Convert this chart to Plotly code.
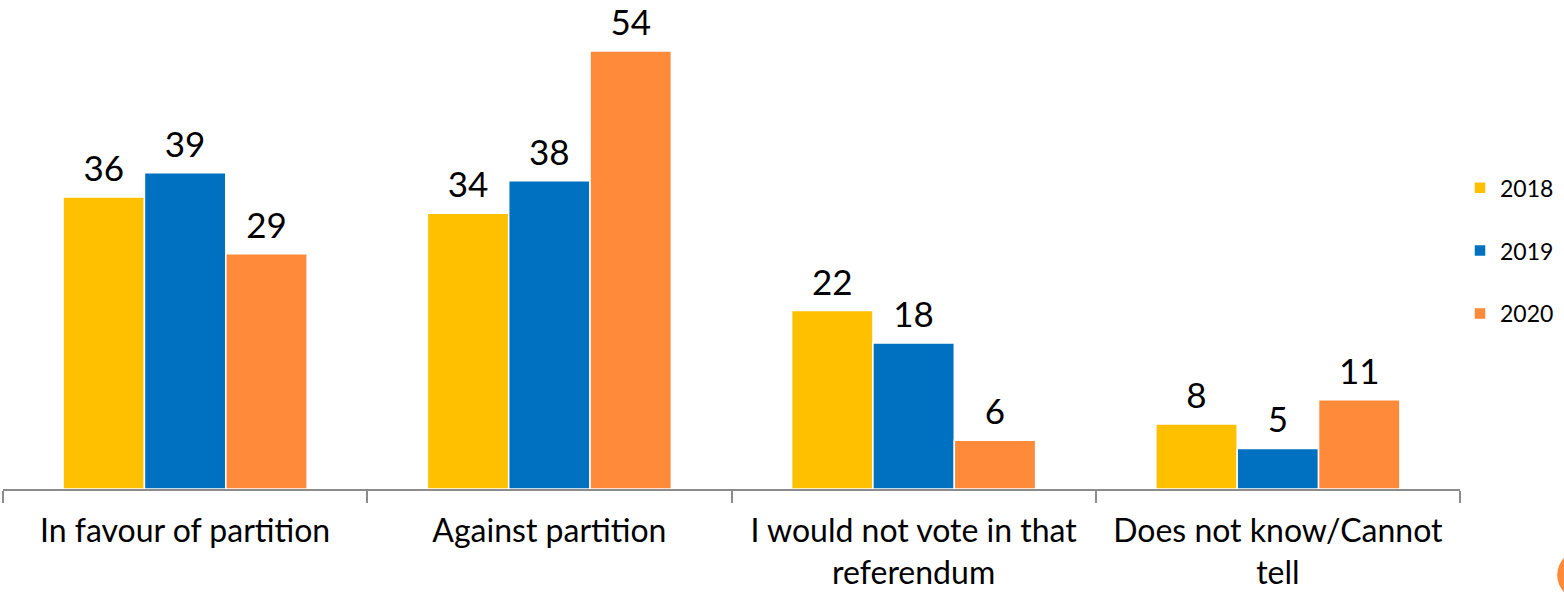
import plotly.graph_objects as go

categories = ["In favour of partition", "Against partition",
              "I would not vote in that<br>referendum", "Does not know/Cannot<br>tell"]
years = ["2018", "2019", "2020"]
values_2018 = [36, 34, 22, 8]
values_2019 = [39, 38, 18, 5]
values_2020 = [29, 54, 6, 11]
colors = ["#FFC000", "#0070C0", "#FF8A3A"]

series = [values_2018, values_2019, values_2020]
FONT = "Lato, 'Open Sans', sans-serif"
GAP = 0.33

fig = go.Figure()
for i, (yr, vals) in enumerate(zip(years, series)):
    fig.add_trace(go.Bar(
        x=categories, y=vals, name=yr, offsetgroup=yr,
        marker=dict(color=colors[i], line=dict(color="white", width=1.5)),
        legendgroup=yr,
    ))
for i, (yr, vals) in enumerate(zip(years, series)):
    fig.add_trace(go.Scatter(
        x=categories, y=vals, offsetgroup=yr, mode="markers+text",
        marker=dict(size=10, opacity=0), text=[str(v) for v in vals],
        textposition="top center", showlegend=False, hoverinfo="skip",
        textfont=dict(size=35, color="black", family=FONT), cliponaxis=False,
    ))

fig.update_layout(
    width=1564, height=592,
    margin=dict(l=3, r=104, t=0, b=103),
    paper_bgcolor="white", plot_bgcolor="white",
    barmode="group", bargap=GAP, bargroupgap=0,
    scattermode="group", scattergap=GAP,
    font=dict(family=FONT, color="black"),
    legend=dict(x=1.0, y=0.66, xanchor="left", yanchor="top",
                font=dict(size=23, family=FONT), tracegroupgap=30,
                traceorder="grouped", itemwidth=30),
    showlegend=True,
)
fig.update_xaxes(
    showline=True, linecolor="#8c8c8c", linewidth=2,
    ticks="outside", tickson="boundaries", ticklen=12, tickcolor="#8c8c8c", tickwidth=1.5,
    tickfont=dict(size=32, family=FONT, color="black"), ticklabelstandoff=13,
    showgrid=False, automargin=False,
)
fig.update_yaxes(range=[0, 60.3], visible=False, showgrid=False, automargin=False)

# decorative partial orange circle at bottom-right corner
fig.add_shape(type="circle", xref="paper", yref="paper",
              x0=1.0667, x1=1.101, y0=-0.227, y1=-0.1247,
              fillcolor="#FF8A3A", line=dict(width=0), layer="above")

fig.write_html("out.html", config={"displayModeBar": False},
               post_script="document.body.style.margin='0';")
